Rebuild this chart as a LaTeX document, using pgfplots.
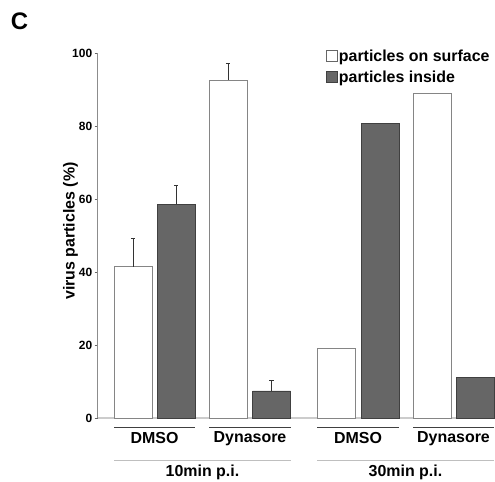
\documentclass[border=0pt]{standalone}
\usepackage{pgfplots}
\pgfplotsset{compat=1.18}
\usepackage{fontspec}
\setmainfont{Liberation Sans}
\definecolor{darkbar}{HTML}{666666}
\definecolor{darkedge}{HTML}{404040}
\definecolor{lightedge}{HTML}{858585}
\begin{document}
\begin{tikzpicture}
\path[use as bounding box] (0,0) rectangle (495bp,482bp);
\node[font=\bfseries\fontsize{24}{24}\selectfont] at (19.5bp,461bp) {C};
\begin{axis}[
  at={(97.7bp,64bp)}, anchor=south west,
  scale only axis, width=397.3bp, height=365bp,
  xmin=97.7, xmax=495, ymin=0, ymax=100,
  axis lines=left,
  x axis line style={-, draw=black!20, line width=1.2pt},
  y axis line style={-, draw=black!45, line width=1.2pt},
  xtick=\empty,
  ytick={0,20,40,60,80,100},
  tick style={draw=black!60, line width=0.8pt},
  major tick length=3bp,
  tick align=outside,
  /pgf/number format/assume math mode=true,
  yticklabel style={font=\bfseries\fontsize{12}{12}\selectfont, xshift=1bp},
  ylabel={virus particles (\%)},
  ylabel style={at={(axis cs:70.5,51.2)}, anchor=center, font=\bfseries\fontsize{16}{16}\selectfont},
  clip=false,
  legend style={draw=none, fill=none, at={(axis cs:326,101.1)}, anchor=north west,
    font=\bfseries\fontsize{16}{16}\selectfont, inner sep=0pt, row sep=5.5bp,
    nodes={inner sep=1bp}},
  legend cell align=left,
  every error bar/.append style={line width=0.7pt, draw=black!80},
]
% particles on surface, 10 min (with SD)
\addplot[ybar, bar width=38, bar shift=0pt, fill=white, draw=lightedge, line width=0.8pt, forget plot,
  error bars/.cd, y dir=plus, y explicit, error mark=-,
  error mark options={rotate=90, mark size=2.2bp, line width=0.7pt, draw=black!80}]
  coordinates {(133,41.4) +- (0,7.9) (228,92.6) +- (0,4.7)};
% particles on surface, 30 min
\addplot[ybar, bar width=38, bar shift=0pt, fill=white, draw=lightedge, line width=0.8pt, forget plot]
  coordinates {(336.5,19.2) (432.5,88.8)};
% particles inside, 10 min (with SD)
\addplot[ybar, bar width=38, bar shift=0pt, fill=darkbar, draw=darkedge, line width=0.8pt, forget plot,
  error bars/.cd, y dir=plus, y explicit, error mark=-,
  error mark options={rotate=90, mark size=2.2bp, line width=0.7pt, draw=black!80}]
  coordinates {(176,58.6) +- (0,5.2) (271.5,7.4) +- (0,3.0)};
% particles inside, 30 min
\addplot[ybar, bar width=38, bar shift=0pt, fill=darkbar, draw=darkedge, line width=0.8pt, forget plot]
  coordinates {(380,80.8) (475,11.2)};
\addlegendimage{legend image code/.code={\draw[draw=black!60, fill=white, line width=0.7pt] (0bp,-5bp) rectangle (11bp,6bp);}}
\addlegendentry{particles on surface}
\addlegendimage{legend image code/.code={\draw[draw=darkedge, fill=darkbar, line width=0.7pt] (0bp,-5bp) rectangle (11bp,6bp);}}
\addlegendentry{particles inside}
% category annotations
\draw[black!75, line width=0.8pt] (axis cs:114,-2.47) -- (axis cs:195,-2.47);
\draw[black!75, line width=0.8pt] (axis cs:209,-2.47) -- (axis cs:291,-2.47);
\draw[black!75, line width=0.8pt] (axis cs:317,-2.47) -- (axis cs:399,-2.47);
\draw[black!75, line width=0.8pt] (axis cs:413,-2.47) -- (axis cs:494,-2.47);
\draw[black!25, line width=1pt] (axis cs:114,-11.78) -- (axis cs:291,-11.78);
\draw[black!25, line width=1pt] (axis cs:317,-11.78) -- (axis cs:494,-11.78);
\node[font=\bfseries\fontsize{16}{16}\selectfont] at (axis cs:154.5,-5.6) {DMSO};
\node[font=\bfseries\fontsize{16}{16}\selectfont] at (axis cs:250,-5.6) {Dynasore};
\node[font=\bfseries\fontsize{16}{16}\selectfont] at (axis cs:358,-5.6) {DMSO};
\node[font=\bfseries\fontsize{16}{16}\selectfont] at (axis cs:453.5,-5.6) {Dynasore};
\node[font=\bfseries\fontsize{16}{16}\selectfont] at (axis cs:202.5,-14.9) {10min p.i.};
\node[font=\bfseries\fontsize{16}{16}\selectfont] at (axis cs:405.5,-14.9) {30min p.i.};
\end{axis}
\end{tikzpicture}
\end{document}
